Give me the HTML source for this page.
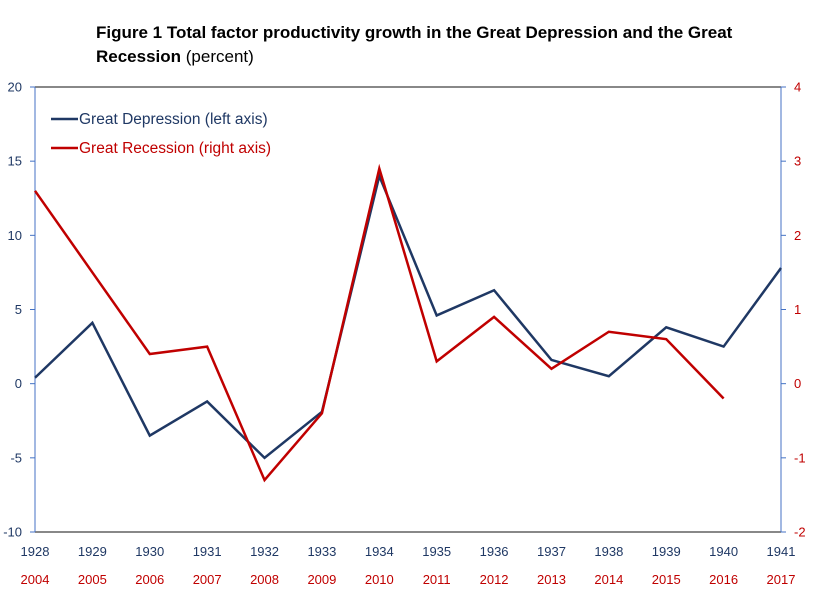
<!DOCTYPE html>
<html><head><meta charset="utf-8"><style>
body{margin:0;background:#fff;}
svg text{font-family:"Liberation Sans",sans-serif;}
</style></head><body>
<svg width="824" height="600" xmlns="http://www.w3.org/2000/svg" id="chart">
<text x="96" y="38" font-size="17" font-weight="bold" fill="#000">Figure 1 Total factor productivity growth in the Great Depression and the Great</text>
<text x="96" y="62" font-size="17" fill="#000"><tspan font-weight="bold">Recession</tspan> (percent)</text>
<g id="axes"></g>
<g id="series"></g>
<g>
<line x1="51" y1="119" x2="78" y2="119" stroke="#1f3864" stroke-width="2.5"/>
<text x="79" y="124" font-size="15.5" fill="#1f3864">Great Depression (left axis)</text>
<line x1="51" y1="148" x2="78" y2="148" stroke="#c00000" stroke-width="2.5"/>
<text x="79" y="153" font-size="15.5" fill="#c00000">Great Recession (right axis)</text>
</g>
</svg>
<script>
const depYears=["1928","1929","1930","1931","1932","1933","1934","1935","1936","1937","1938","1939","1940","1941"];
const recYears=["2004","2005","2006","2007","2008","2009","2010","2011","2012","2013","2014","2015","2016","2017"];
const depValues=[0.4,4.1,-3.5,-1.2,-5.0,-1.9,14.0,4.6,6.3,1.6,0.5,3.8,2.5,7.8];
const recValues=[2.6,1.5,0.4,0.5,-1.3,-0.4,2.9,0.3,0.9,0.2,0.7,0.6,-0.2];
const leftTicks=[20,15,10,5,0,-5,-10];
const rightTicks=[4,3,2,1,0,-1,-2];
const NS="http://www.w3.org/2000/svg";
const X0=35,X1=781,Y0=87,Y1=532;
function xs(i){return X0+i*(X1-X0)/(depYears.length-1);}
function yl(v){return Y0+(20-v)*(Y1-Y0)/30;}
function yr(v){return Y0+(4-v)*(Y1-Y0)/6;}
const axes=document.getElementById('axes'),ser=document.getElementById('series');
function mk(tag,attrs,parent,txt){const e=document.createElementNS(NS,tag);for(const k in attrs)e.setAttribute(k,attrs[k]);if(txt!==undefined)e.textContent=txt;parent.appendChild(e);return e;}
let e;
e=mk('line',{x1:X0,y1:Y0,x2:X1,y2:Y0,stroke:'#404040','stroke-width':1.2},axes);


e=mk('line',{x1:X0,y1:Y1,x2:X1,y2:Y1,stroke:'#404040','stroke-width':1.2},axes);


e=mk('line',{x1:X0,y1:Y0,x2:X0,y2:Y1,stroke:'#4472c4','stroke-width':1},axes);


e=mk('line',{x1:X1,y1:Y0,x2:X1,y2:Y1,stroke:'#4472c4','stroke-width':1},axes);


leftTicks.forEach(v=>{const y=yl(v);
mk('line',{x1:X0-5,y1:y,x2:X0,y2:y,stroke:'#4472c4'},axes);
e=mk('text',{x:X0-13,y:y+4.5,'font-size':13,'text-anchor':'end',fill:'#1f3864'},axes,String(v));

});
rightTicks.forEach(v=>{const y=yr(v);
mk('line',{x1:X1,y1:y,x2:X1+5,y2:y,stroke:'#4472c4'},axes);
e=mk('text',{x:X1+13,y:y+4.5,'font-size':13,'text-anchor':'start',fill:'#c00000'},axes,String(v));

});
depYears.forEach((t,i)=>{
e=mk('text',{x:xs(i),y:556,'font-size':13,'text-anchor':'middle',fill:'#1f3864'},axes,t);


e=mk('text',{x:xs(i),y:584,'font-size':13,'text-anchor':'middle',fill:'#c00000'},axes,recYears[i]);

});
e=mk('polyline',{points:depValues.map((v,i)=>xs(i)+','+yl(v)).join(' '),fill:'none',stroke:'#1f3864','stroke-width':2.5,'stroke-linejoin':'miter'},ser);


e=mk('polyline',{points:recValues.map((v,i)=>xs(i)+','+yr(v)).join(' '),fill:'none',stroke:'#c00000','stroke-width':2.5},ser);


</script>
</body></html>
